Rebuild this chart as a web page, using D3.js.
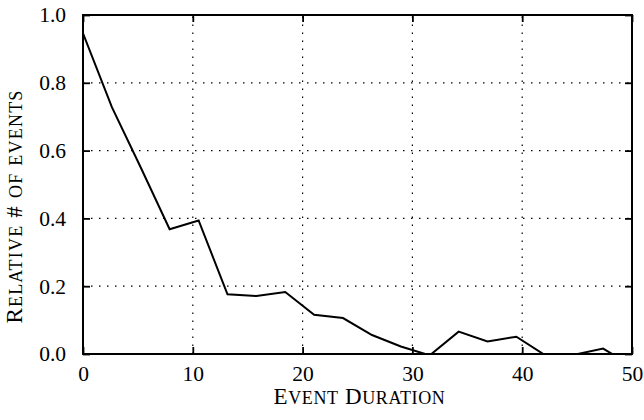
<!DOCTYPE html>
<html>
<head>
<meta charset="utf-8">
<script src="https://cdn.jsdelivr.net/npm/d3@7"></script>
<style>
  html, body { margin: 0; padding: 0; background: #fff; }
  svg { display: block; }
  text { font-family: "Liberation Serif", "DejaVu Serif", serif; fill: #000; }
</style>
</head>
<body>
<svg id="chart" width="644" height="420"></svg>
<script>
// Data
const durations = [0, 2.63, 5.26, 7.89, 10.53, 13.16, 15.79, 18.42, 21.05, 23.68,
                   26.32, 28.95, 31.58, 34.21, 36.84, 39.47, 42.11, 44.74, 47.37, 50];
const relEvents = [0.946, 0.728, 0.55, 0.368, 0.394, 0.176, 0.171, 0.183, 0.116, 0.106,
                   0.056, 0.022, -0.004, 0.066, 0.037, 0.051, -0.004, -0.002, 0.016, -0.035];
const xTicks = [0, 10, 20, 30, 40, 50];
const yTicks = [0.0, 0.2, 0.4, 0.6, 0.8, 1.0];
const xLabel = "Event Duration";
const yLabel = "Relative # of events";

const W = 644, H = 420;
const margin = { left: 83, right: 12, top: 15, bottom: 66 };
const svg = d3.select("#chart");

const x = d3.scaleLinear().domain([0, 50]).range([margin.left, W - margin.right]);
const y = d3.scaleLinear().domain([0, 1]).range([H - margin.bottom, margin.top]);

const x0 = x.range()[0], x1 = x.range()[1];
const y0 = y.range()[0], y1 = y.range()[1];

// grid
const grid = svg.append("g");
grid.selectAll("line.gx").data(xTicks.slice(1, -1)).join("line")
  .attr("x1", d => x(d)).attr("x2", d => x(d))
  .attr("y1", y0).attr("y2", y1)
  .attr("stroke", "#000").attr("stroke-width", 1.2)
  .attr("stroke-dasharray", "1.5,6.5");
grid.selectAll("line.gy").data(yTicks.slice(1, -1)).join("line")
  .attr("y1", d => y(d)).attr("y2", d => y(d))
  .attr("x1", x0).attr("x2", x1)
  .attr("stroke", "#000").attr("stroke-width", 1.2)
  .attr("stroke-dasharray", "1.5,6.5");

// clip
svg.append("clipPath").attr("id", "clip").append("rect")
  .attr("x", x0).attr("y", y1).attr("width", x1 - x0).attr("height", y0 - y1);

// data line
const line = d3.line().x((d, i) => x(durations[i])).y(d => y(d));
svg.append("path")
  .datum(relEvents)
  .attr("clip-path", "url(#clip)")
  .attr("d", line)
  .attr("fill", "none")
  .attr("stroke", "#000")
  .attr("stroke-width", 2)
  .attr("stroke-linejoin", "miter");

// axes with inward ticks
const tickLen = 7;
const fs = 21.5;
const axB = svg.append("g").attr("transform", `translate(0,${y0})`)
  .call(d3.axisBottom(x).tickValues(xTicks).tickFormat(d3.format("d")).tickSizeInner(-tickLen).tickSizeOuter(0).tickPadding(tickLen + 5));
const axT = svg.append("g").attr("transform", `translate(0,${y1})`)
  .call(d3.axisTop(x).tickValues(xTicks).tickFormat("").tickSizeInner(-tickLen).tickSizeOuter(0));
const axL = svg.append("g").attr("transform", `translate(${x0},0)`)
  .call(d3.axisLeft(y).tickValues(yTicks).tickFormat(d3.format(".1f")).tickSizeInner(-tickLen).tickSizeOuter(0).tickPadding(tickLen + 10));
const axR = svg.append("g").attr("transform", `translate(${x1},0)`)
  .call(d3.axisRight(y).tickValues(yTicks).tickFormat("").tickSizeInner(-tickLen).tickSizeOuter(0));

[axB, axT, axL, axR].forEach(a => {
  a.select(".domain").remove();
  a.selectAll(".tick line").attr("stroke", "#000").attr("stroke-width", 1.8);
  a.selectAll("text").attr("font-size", fs).attr("font-family", "Liberation Serif, serif").attr("fill", "#000");
});

// frame
svg.append("rect")
  .attr("x", x0).attr("y", y1).attr("width", x1 - x0).attr("height", y0 - y1)
  .attr("fill", "none").attr("stroke", "#000").attr("stroke-width", 2);

// manual small caps
const lfs = 23, scfs = 18;
function smallCaps(textSel, str) {
  const runs = [];
  for (const ch of str) {
    const small = ch >= "a" && ch <= "z";
    const last = runs[runs.length - 1];
    if (last && last.small === small) last.s += ch; else runs.push({ small, s: ch });
  }
  textSel.selectAll("tspan").data(runs).join("tspan")
    .attr("font-size", d => d.small ? scfs : lfs)
    .text(d => d.small ? d.s.toUpperCase() : d.s);
}
const xl = svg.append("text")
  .attr("x", (x0 + x1) / 2 + 2).attr("y", 404)
  .attr("text-anchor", "middle")
  .attr("letter-spacing", 0.6);
smallCaps(xl, xLabel);
const yl = svg.append("text")
  .attr("transform", `translate(22,${(y0 + y1) / 2 + 22}) rotate(-90)`)
  .attr("text-anchor", "middle")
  .attr("letter-spacing", 1.2);
smallCaps(yl, yLabel);
</script>
</body>
</html>
